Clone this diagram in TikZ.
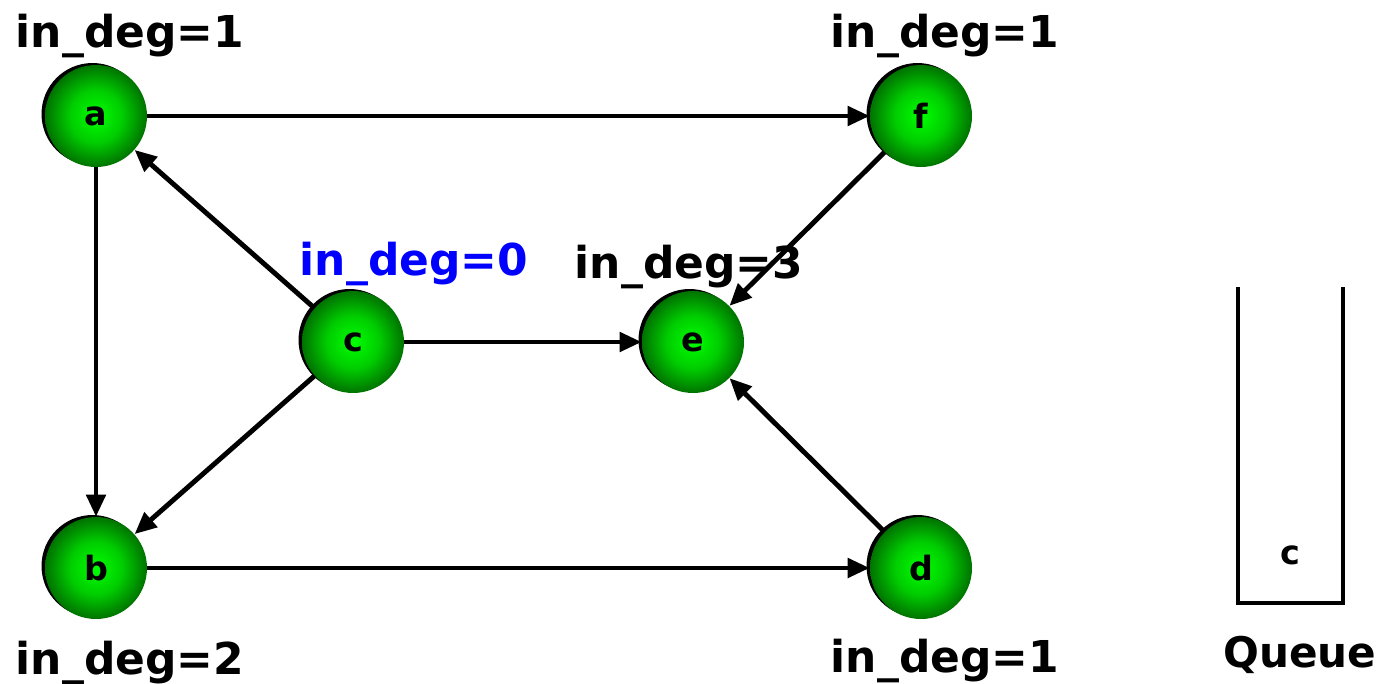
\documentclass[tikz,border=0pt]{standalone}
\usepackage{fontspec}
\setmainfont{DejaVu Sans}
\usetikzlibrary{arrows.meta,shadows}

% bright green in the middle, dark green at the rim
\pgfdeclareradialshading{greenball}{\pgfpoint{0bp}{0bp}}{%
	rgb(0bp)=(0,1,0);
	rgb(13bp)=(0,0.8,0);
	rgb(25bp)=(0,0.45,0);
	rgb(50bp)=(0,0.45,0)}

\begin{document}
\begin{tikzpicture}[x=0.02cm,y=-0.02cm,
	vertex/.style={circle,minimum size=2.04cm,inner sep=0pt,shading=greenball,
		drop shadow={shadow xshift=-0.07cm,shadow yshift=0.04cm,opacity=1,fill=black},
		font=\fontsize{19}{22}\selectfont\bfseries},
	deg/.style={anchor=base,font=\fontsize{25}{30}\selectfont\bfseries},
	edge/.style={line width=2.8pt,-{Triangle[length=0.44cm,width=0.38cm]}}]

	\useasboundingbox (0,0) rectangle (1395,683);

	% the graph
	\node[vertex] (a) at (96,116) {a};
	\node[vertex] (f) at (921,116) {f};
	\node[vertex] (c) at (353,342) {c};
	\node[vertex] (e) at (693,342) {e};
	\node[vertex] (b) at (96,568) {b};
	\node[vertex] (d) at (921,568) {d};

	\draw[edge] (a) -- (f);
	\draw[edge] (c) -- (a);
	\draw[edge] (a) -- (b);
	\draw[edge] (c) -- (b);
	\draw[edge] (c) -- (e);
	\draw[edge] (f) -- (e);
	\draw[edge] (d) -- (e);
	\draw[edge] (b) -- (d);

	% in-degree labels
	\node[deg] (la) at (130,47) {in\_deg=1};
	\node[deg] (lf) at (945,47) {in\_deg=1};
	\node[deg,text=blue] (lc) at (414,275) {in\_deg=0};
	\node[deg] (le) at (689,278) {in\_deg=3};
	\node[deg] (lb) at (130,674) {in\_deg=2};
	\node[deg] (ld) at (945,672) {in\_deg=1};

	% the queue
	\draw[line width=2.8pt] (1238,287) -- (1238,603) -- (1343,603) -- (1343,287);
	\node[font=\fontsize{19}{22}\selectfont\bfseries] (qc) at (1290,555) {c};
	\node[deg,font=\fontsize{24}{29}\selectfont\bfseries] (q) at (1300,667) {Queue};

\end{tikzpicture}
\end{document}
